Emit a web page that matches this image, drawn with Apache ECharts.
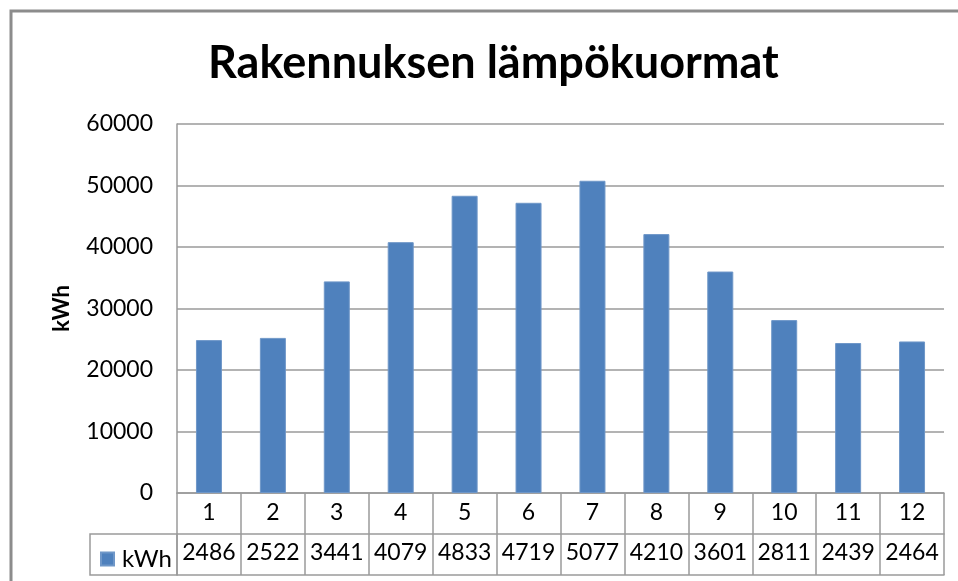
<!DOCTYPE html>
<html>
<head>
<meta charset="utf-8">
<script src="https://cdn.jsdelivr.net/npm/echarts@6/dist/echarts.min.js"></script>
<style>
  html, body { margin: 0; padding: 0; background: #fff; }
  #chart { width: 958px; height: 581px; }
</style>
</head>
<body>
<div id="chart"></div>
<script>
// kuukaudet ja lämpökuormat (kWh)
const months = ['1', '2', '3', '4', '5', '6', '7', '8', '9', '10', '11', '12']
const heatLoad = [24860, 25220, 34410, 40790, 48330, 47190, 50770, 42100, 36010, 28110, 24390, 24640]
// taulukon solujen tekstit sellaisenaan kuvasta
const tableLabels = ['2486', '2522', '3441', '4079', '4833', '4719', '5077', '4210', '3601', '2811', '2439', '2464']
const yTicks = [0, 10000, 20000, 30000, 40000, 50000, 60000]

const font = 'Lato'
const lineColor = '#9a9a9a'
const chart = echarts.init(document.getElementById('chart'))

chart.setOption({
  backgroundColor: '#ffffff',
  animation: false,
  title: {
    text: 'Rakennuksen lämpökuormat',
    left: 203,
    top: 36,
    textStyle: { fontFamily: font, fontWeight: 'bold', fontSize: 45, color: '#000' }
  },
  legend: {
    data: ['kWh'],
    left: 95,
    top: 542,
    itemWidth: 13,
    itemHeight: 13,
    itemGap: 4,
    icon: 'rect',
    textStyle: { fontFamily: font, fontSize: 24, color: '#000', padding: [0, 0, 0, 3] }
  },
  grid: { left: 177, right: 14, top: 124, bottom: 88 },
  xAxis: [{
    type: 'category',
    data: months,
    position: 'bottom',
    axisLine: { lineStyle: { color: lineColor, width: 1.5 } },
    axisTick: { show: true, interval: 0, length: 82, lineStyle: { color: lineColor, width: 1.5 } },
    axisLabel: { interval: 0, margin: 8, fontFamily: font, fontSize: 23, color: '#000' }
  }, {
    type: 'category',
    data: tableLabels,
    position: 'bottom',
    offset: 41,
    axisLine: { lineStyle: { color: lineColor, width: 1.5 } },
    axisTick: { show: false },
    axisLabel: { interval: 0, margin: 7, fontFamily: font, fontSize: 23, color: '#000' }
  }, {
    type: 'category',
    data: months,
    position: 'bottom',
    offset: 82,
    axisLine: { lineStyle: { color: lineColor, width: 1.5 } },
    axisTick: { show: false },
    axisLabel: { show: false }
  }],
  yAxis: {
    type: 'value',
    min: 0,
    max: 60000,
    interval: 10000,
    name: 'kWh',
    nameLocation: 'middle',
    nameRotate: 90,
    nameGap: 104,
    nameTextStyle: { fontFamily: font, fontWeight: 'bold', fontSize: 22, color: '#000' },
    axisLine: { show: true, lineStyle: { color: lineColor, width: 1.5 } },
    axisTick: { show: false },
    axisLabel: {
      margin: 24,
      fontFamily: font,
      fontSize: 23,
      color: '#000',
      formatter: v => (yTicks.indexOf(v) >= 0 ? String(v) : '')
    },
    splitLine: { lineStyle: { color: lineColor, width: 1.5 } }
  },
  series: [{
    name: 'kWh',
    type: 'bar',
    data: heatLoad,
    barWidth: 26,
    itemStyle: { color: '#4f81bd', borderColor: '#6f97c8', borderWidth: 1 }
  }],
  graphic: [{
    // ulkoreunus
    type: 'rect',
    shape: { x: 11, y: 11, width: 1000, height: 1000 },
    style: { fill: 'none', stroke: '#8c8c8c', lineWidth: 3 },
    silent: true
  }, {
    // taulukon selitesolu
    type: 'rect',
    shape: { x: 90, y: 534, width: 87, height: 41 },
    style: { fill: 'none', stroke: lineColor, lineWidth: 1.5 },
    silent: true
  }]
})
</script>
</body>
</html>
